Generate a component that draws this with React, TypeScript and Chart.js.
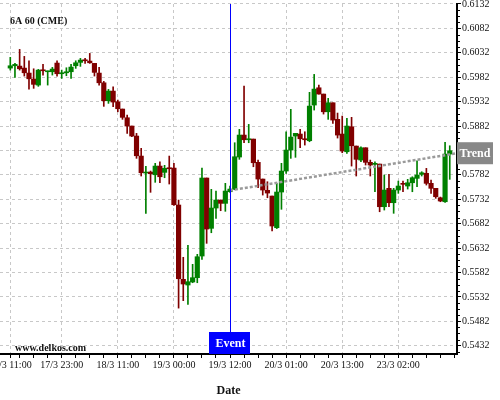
import { useEffect, useRef } from 'react';
import { Chart, registerables } from 'chart.js';

Chart.register(...registerables);

// ---- data (hourly bars, index 0 = 17/3 11:00) ----
const openP = [
  0.60007, 0.60055, 0.60048, 0.60007, 0.59905, 0.59782, 0.59659, 0.59966, 0.59932, 0.59932,
  0.60110, 0.59891, 0.59911, 0.59932, 0.60055, 0.60124, 0.60171, 0.60151, 0.60104, 0.59905,
  0.59706, 0.59338, 0.59536, 0.59317, 0.59168, 0.58990, 0.58820, 0.58615, 0.58205, 0.57857,
  0.57877, 0.57822, 0.58000, 0.57871, 0.57966, 0.57959, 0.57202, 0.55680, 0.55563, 0.55625,
  0.55713, 0.56157, 0.57755, 0.56724, 0.57140, 0.57304, 0.57236, 0.57474, 0.57523, 0.58185,
  0.58635, 0.58539, 0.58553, 0.58076, 0.57734, 0.57503, 0.57386, 0.56737, 0.57468, 0.57898,
  0.58328, 0.58615, 0.58656, 0.58559, 0.58519, 0.59250, 0.59604, 0.59475, 0.59112, 0.59297,
  0.58957, 0.58656, 0.58293, 0.58805, 0.58410, 0.58123, 0.58375, 0.58076, 0.58035, 0.58041,
  0.57167, 0.57544, 0.57249, 0.57509, 0.57646, 0.57591, 0.57658, 0.57748, 0.57830, 0.57851,
  0.57646, 0.57544, 0.57351, 0.57269, 0.58246,
];
const highP = [
  0.60227, 0.60104, 0.60390, 0.60247, 0.60157, 0.59993, 0.59981, 0.60083, 0.59946, 0.60022,
  0.60157, 0.59966, 0.60014, 0.60083, 0.60157, 0.60206, 0.60206, 0.60308, 0.60104, 0.60022,
  0.59735, 0.59571, 0.59624, 0.59352, 0.59168, 0.59045, 0.58820, 0.58670, 0.58363, 0.57994,
  0.57898, 0.58056, 0.58088, 0.58015, 0.58205, 0.58056, 0.57304, 0.56131, 0.56376, 0.55987,
  0.56192, 0.57959, 0.57755, 0.57523, 0.57488, 0.57304, 0.57646, 0.57591, 0.58478, 0.58752,
  0.59639, 0.58854, 0.58553, 0.58123, 0.57734, 0.57679, 0.57386, 0.57646, 0.58056, 0.58703,
  0.59162, 0.58670, 0.58752, 0.58703, 0.59510, 0.59878, 0.59659, 0.59475, 0.59387, 0.59297,
  0.59086, 0.59024, 0.58977, 0.58998, 0.58410, 0.58396, 0.58375, 0.58123, 0.58088, 0.58041,
  0.57816, 0.57830, 0.57544, 0.57693, 0.57693, 0.57728, 0.57781, 0.58109, 0.57884, 0.57953,
  0.57714, 0.57544, 0.57365, 0.58486, 0.58416,
];
const lowP = [
  0.59966, 0.59817, 0.59966, 0.59844, 0.59577, 0.59592, 0.59633, 0.59864, 0.59659, 0.59864,
  0.59844, 0.59796, 0.59850, 0.59796, 0.60001, 0.60042, 0.60104, 0.60104, 0.59844, 0.59659,
  0.59223, 0.59284, 0.59215, 0.59112, 0.58957, 0.58670, 0.58600, 0.58158, 0.57796, 0.57032,
  0.57462, 0.57667, 0.57658, 0.57761, 0.57632, 0.57196, 0.55090, 0.55242, 0.55168, 0.55610,
  0.55610, 0.56090, 0.56417, 0.56634, 0.56929, 0.57085, 0.57073, 0.57458, 0.57513, 0.58138,
  0.58478, 0.58478, 0.57986, 0.57556, 0.57406, 0.57351, 0.56669, 0.56720, 0.57114, 0.57851,
  0.58158, 0.58179, 0.58375, 0.58430, 0.58498, 0.59147, 0.59475, 0.59065, 0.58957, 0.58875,
  0.58574, 0.58273, 0.58260, 0.58000, 0.57796, 0.58088, 0.58021, 0.57796, 0.57474, 0.57064,
  0.57099, 0.57167, 0.57032, 0.57441, 0.57474, 0.57529, 0.57474, 0.57576, 0.57796, 0.57611,
  0.57441, 0.57339, 0.57269, 0.57257, 0.57728,
];
const closeP = [
  0.60055, 0.60083, 0.59993, 0.59911, 0.59788, 0.59674, 0.59966, 0.59952, 0.59946, 0.59987,
  0.59891, 0.59911, 0.59932, 0.60028, 0.60116, 0.60171, 0.60157, 0.60116, 0.59919, 0.59706,
  0.59338, 0.59536, 0.59311, 0.59174, 0.58998, 0.58820, 0.58615, 0.58211, 0.57863, 0.57877,
  0.57843, 0.58000, 0.57781, 0.57953, 0.57945, 0.57208, 0.55692, 0.55584, 0.55631, 0.55713,
  0.56143, 0.57755, 0.56710, 0.57140, 0.57304, 0.57236, 0.57488, 0.57529, 0.58191, 0.58635,
  0.58539, 0.58559, 0.58068, 0.57734, 0.57509, 0.57447, 0.56772, 0.57468, 0.57898, 0.58328,
  0.58594, 0.58670, 0.58559, 0.58539, 0.59229, 0.59577, 0.59475, 0.59112, 0.59297, 0.58942,
  0.58635, 0.58308, 0.58820, 0.58416, 0.58138, 0.58375, 0.58076, 0.58021, 0.58056, 0.57167,
  0.57509, 0.57249, 0.57509, 0.57591, 0.57626, 0.57658, 0.57761, 0.57816, 0.57863, 0.57646,
  0.57544, 0.57372, 0.57284, 0.58246, 0.58314,
];

// x-axis tick labels (bar index -> label)
const xTickIndex = [0, 11, 23, 35, 47, 59, 71, 83];
const xTickLabels = [
  '17/3 11:00', '17/3 23:00', '18/3 11:00', '19/3 00:00',
  '19/3 12:00', '20/3 01:00', '20/3 13:00', '23/3 02:00',
];
// y-axis labelled ticks
const yTickValues = [
  0.5432, 0.5482, 0.5532, 0.5582, 0.5632, 0.5682, 0.5732, 0.5782,
  0.5832, 0.5882, 0.5932, 0.5982, 0.6032, 0.6082, 0.6132,
];

// event & trend
const eventIndex = 47;
const eventLabel = 'Event';
const trendX = [47, 95.55];
const trendY = [0.57501, 0.58263];
const trendLabel = 'Trend';

const chartTitle = '6A 60 (CME)';
const watermark = 'www.delkos.com';
const xTitle = 'Date';

// axis ranges
const X_MIN = -2.2;
const X_MAX = 95.55;
const Y_MIN = 0.5415;
const Y_MAX = 0.6132;

const UP = '#008000';
const DOWN = '#800000';
const FONT = '"Liberation Serif", "Times New Roman", serif';

export default function App() {
  const ref = useRef<HTMLCanvasElement | null>(null);

  useEffect(() => {
    if (!ref.current) return;
    const colors = openP.map((o, i) => (closeP[i] >= o ? UP : DOWN));

    // minor x ticks every 3 bars aligned with the labelled ticks
    const xTicks: number[] = [0];
    for (let v = 2; v <= X_MAX; v += 3) xTicks.push(v);
    // minor y ticks (4 per labelled interval)
    const ySteps: { value: number; major: boolean }[] = [];
    const step = (yTickValues[1] - yTickValues[0]) / 4;
    for (let k = -1; ; k++) {
      const v = yTickValues[0] + k * step;
      if (v > Y_MAX + 1e-9) break;
      if (v < Y_MIN) continue;
      ySteps.push({ value: v, major: ((k % 4) + 4) % 4 === 0 });
    }

    const overlay = {
      id: 'overlay',
      afterDraw(chart: any) {
        const { ctx, chartArea: ca, scales } = chart;
        const xs = scales.x;
        const ys = scales.y;
        ctx.save();
        // short minor tick marks on the price axis
        ctx.strokeStyle = '#000';
        ctx.lineWidth = 1;
        ys.ticks.forEach((t: any) => {
          if (t.major) return;
          const py = Math.round(ys.getPixelForValue(t.value)) + 0.5;
          ctx.beginPath();
          ctx.moveTo(ca.right, py);
          ctx.lineTo(ca.right + 3, py);
          ctx.stroke();
        });
        // event line
        const ex = Math.round(xs.getPixelForValue(eventIndex)) + 0.5;
        ctx.strokeStyle = '#0000ff';
        ctx.beginPath();
        ctx.moveTo(ex, ca.top);
        ctx.lineTo(ex, ca.bottom);
        ctx.stroke();
        ctx.fillStyle = '#0000ff';
        ctx.fillRect(ex - 21.5, ca.bottom - 22, 41, 22);
        ctx.fillStyle = '#ffffff';
        ctx.font = `bold 12px ${FONT}`;
        ctx.textAlign = 'center';
        ctx.textBaseline = 'middle';
        ctx.fillText(eventLabel, ex, ca.bottom - 10.5);
        // trend label box
        const ty = ys.getPixelForValue(trendY[1]);
        ctx.fillStyle = '#888888';
        ctx.fillRect(ca.right, ty - 11, 36, 22);
        ctx.fillStyle = '#ffffff';
        ctx.fillText(trendLabel, ca.right + 18, ty + 0.5);
        // texts
        ctx.fillStyle = '#111111';
        ctx.font = `bold 10px ${FONT}`;
        ctx.textAlign = 'left';
        ctx.textBaseline = 'alphabetic';
        ctx.fillText(chartTitle, 10, 24);
        ctx.fillText(watermark, 15, 351);
        ctx.restore();
      },
    };

    const chart = new Chart(ref.current, {
      type: 'bar',
      data: {
        datasets: [
          {
            type: 'line',
            data: trendX.map((x, i) => ({ x, y: trendY[i] })),
            borderColor: '#9a9a9a',
            borderWidth: 2.5,
            borderDash: [3, 2],
            pointRadius: 0,
            fill: false,
            order: 0,
          } as any,
          {
            type: 'bar',
            data: openP.map((o, i) => ({ x: i, y: [o, closeP[i]] })),
            backgroundColor: colors,
            borderWidth: 0,
            barThickness: 4.5,
            minBarLength: 1,
            grouped: false,
            order: 1,
          } as any,
          {
            type: 'bar',
            data: lowP.map((l, i) => ({ x: i, y: [l, highP[i]] })),
            backgroundColor: colors,
            borderWidth: 0,
            barThickness: 1,
            grouped: false,
            order: 2,
          } as any,
        ],
      },
      options: {
        animation: false,
        responsive: false,
        events: [],
        layout: { padding: { top: 4, left: 0, right: 0, bottom: 0 } },
        plugins: { legend: { display: false }, tooltip: { enabled: false } },
        scales: {
          x: {
            type: 'linear',
            min: X_MIN,
            max: X_MAX,
            offset: false,
            afterBuildTicks: (s: any) => {
              s.ticks = xTicks.map((v) => ({ value: v, major: xTickIndex.includes(v) }));
            },
            afterFit: (s: any) => {
              s.height = 46;
              s.paddingLeft = 0;
              s.paddingRight = 0;
            },
            ticks: {
              autoSkip: false,
              maxRotation: 0,
              minRotation: 0,
              padding: 1,
              color: '#111',
              font: { family: FONT, size: 10 },
              callback: (v: any) => {
                const k = xTickIndex.indexOf(Number(v));
                return k >= 0 ? xTickLabels[k] : '';
              },
            },
            grid: {
              offset: false,
              color: (c: any) => (c.tick && c.tick.major ? '#c8c8c8' : 'rgba(0,0,0,0)'),
              tickColor: '#000',
              tickLength: 4,
              lineWidth: 1,
            },
            border: { display: true, color: '#000', width: 2, dash: [3, 3] },
            title: {
              display: true,
              text: xTitle,
              color: '#111',
              font: { family: FONT, size: 12, weight: 'bold' },
              padding: { top: 0, bottom: 2 },
            },
          },
          y: {
            type: 'linear',
            position: 'right',
            min: Y_MIN,
            max: Y_MAX,
            afterBuildTicks: (s: any) => {
              s.ticks = ySteps.map((t) => ({ value: t.value, major: t.major }));
            },
            afterFit: (s: any) => {
              s.width = 43;
              s.paddingTop = 0;
              s.paddingBottom = 0;
            },
            ticks: {
              autoSkip: false,
              padding: 1,
              color: '#111',
              font: { family: FONT, size: 10 },
              callback: (v: any, i: number, ticks: any[]) =>
                ticks[i] && ticks[i].major ? Number(v).toFixed(4) : '',
            },
            grid: {
              color: (c: any) => (c.tick && c.tick.major ? '#c8c8c8' : 'rgba(0,0,0,0)'),
              tickColor: (c: any) => (c.tick && c.tick.major ? '#000' : 'rgba(0,0,0,0)'),
              tickLength: 4,
              lineWidth: 1,
            },
            border: { display: true, color: '#000', width: 2, dash: [3, 3] },
          },
        },
      } as any,
      plugins: [overlay],
    });
    return () => chart.destroy();
  }, []);

  return (
    <div style={{ position: 'absolute', left: 0, top: 0, width: 500, height: 400, background: '#fff' }}>
      <canvas ref={ref} width={500} height={400} style={{ display: 'block' }} />
    </div>
  );
}
